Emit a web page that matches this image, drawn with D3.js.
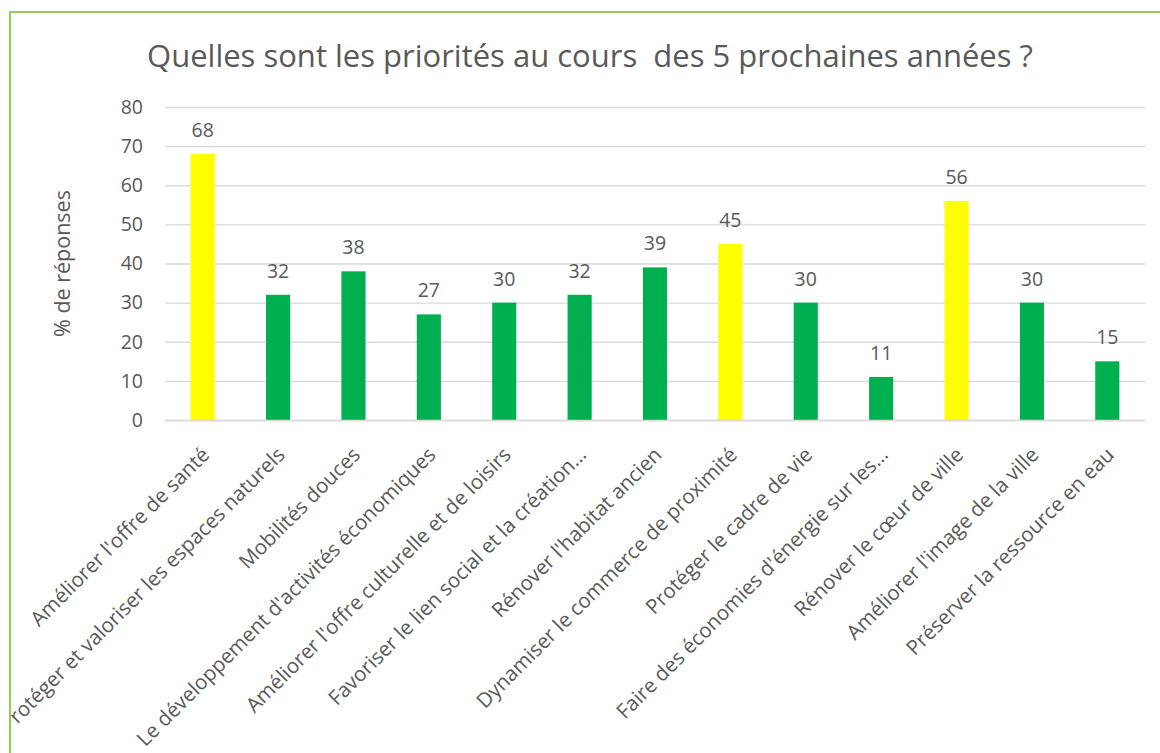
<!DOCTYPE html>
<html>
<head>
<meta charset="utf-8">
<script src="https://cdn.jsdelivr.net/npm/d3@7"></script>
<style>
  html, body { margin: 0; padding: 0; background: #fff; }
  svg { display: block; font-family: "Open Sans", "Noto Sans", sans-serif; }
</style>
</head>
<body>
<svg id="chart" width="1160" height="753"></svg>
<script>
// Survey results: share of answers per priority
const categories = [
  "Améliorer l'offre de santé",
  "Protéger et valoriser les espaces naturels",
  "Mobilités douces",
  "Le développement d'activités économiques",
  "Améliorer l'offre culturelle et de loisirs",
  "Favoriser le lien social et la création…",
  "Rénover l'habitat ancien",
  "Dynamiser le commerce de proximité",
  "Protéger le cadre de vie",
  "Faire des économies d'énergie sur les…",
  "Rénover le cœur de ville",
  "Améliorer l'image de la ville",
  "Préserver la ressource en eau"
];
const values = [68, 32, 38, 27, 30, 32, 39, 45, 30, 11, 56, 30, 15];
// top priorities are highlighted
const highlighted = [true, false, false, false, false, false, false, true, false, false, true, false, false];
const yTicks = [0, 10, 20, 30, 40, 50, 60, 70, 80];

const titleText = "Quelles sont les priorités au cours  des 5 prochaines années ?";
const yTitle = "% de réponses";

const svg = d3.select("#chart");
const textColor = "#595959";
const font = "'Open Sans', sans-serif";

// frame
svg.append("defs").append("clipPath").attr("id", "frameClip")
  .append("rect").attr("x", 11).attr("y", 13).attr("width", 1160).attr("height", 760);

svg.append("rect")
  .attr("x", 10).attr("y", 12)
  .attr("width", 1170).attr("height", 760)
  .attr("fill", "#fff")
  .attr("stroke", "#92D050").attr("stroke-width", 2);

const g = svg.append("g").attr("clip-path", "url(#frameClip)");

const margin = { left: 165, right: 1145, top: 107, bottom: 420 };

const x = d3.scaleBand()
  .domain(categories)
  .range([margin.left, margin.right])
  .paddingInner(0.68)
  .paddingOuter(0.34);

const y = d3.scaleLinear()
  .domain([0, 80])
  .range([margin.bottom, margin.top]);

// title
g.append("text")
  .attr("x", 590).attr("y", 67)
  .attr("text-anchor", "middle")
  .attr("fill", textColor)
  .attr("font-size", 31)
  .style("white-space", "pre")
  .text(titleText);

// gridlines and y labels
const yAxis = d3.axisLeft(y).tickValues(yTicks).tickSize(-(margin.right - margin.left)).tickPadding(22);
const ya = g.append("g").attr("transform", `translate(${margin.left},0)`).call(yAxis);
ya.select(".domain").remove();
ya.selectAll(".tick line").attr("stroke", "#d9d9d9").attr("stroke-width", 1.3);
ya.selectAll(".tick text").attr("fill", textColor).attr("font-size", 19.5)
  .attr("font-family", font);

// y axis title
g.append("text")
  .attr("transform", `translate(70, ${(margin.top + margin.bottom) / 2}) rotate(-90)`)
  .attr("text-anchor", "middle")
  .attr("fill", textColor)
  .attr("font-size", 21.5)
  .text(yTitle);

// bars
g.selectAll("rect.bar")
  .data(values)
  .join("rect")
  .attr("class", "bar")
  .attr("x", (d, i) => x(categories[i]))
  .attr("width", x.bandwidth())
  .attr("y", d => y(d))
  .attr("height", d => y(0) - y(d))
  .attr("fill", (d, i) => highlighted[i] ? "#FFFF00" : "#00B050");

// value labels
g.selectAll("text.val")
  .data(values)
  .join("text")
  .attr("class", "val")
  .attr("x", (d, i) => x(categories[i]) + x.bandwidth() / 2)
  .attr("y", d => y(d) - 17)
  .attr("text-anchor", "middle")
  .attr("fill", textColor)
  .attr("font-size", 19.5)
  .text(d => d);

// category labels
const xAxis = d3.axisBottom(x).tickSize(0).tickPadding(0);
const xa = g.append("g").attr("transform", `translate(0,${margin.bottom})`).call(xAxis);
xa.select(".domain").attr("stroke", "#d9d9d9").attr("stroke-width", 1.3);
xa.selectAll(".tick text")
  .attr("fill", textColor)
  .attr("font-size", 20.5)
  .attr("font-family", font)
  .attr("text-anchor", "end")
  .attr("dy", null)
  .attr("y", 0)
  .attr("transform", "translate(8, 36) rotate(-45)");
</script>
</body>
</html>
